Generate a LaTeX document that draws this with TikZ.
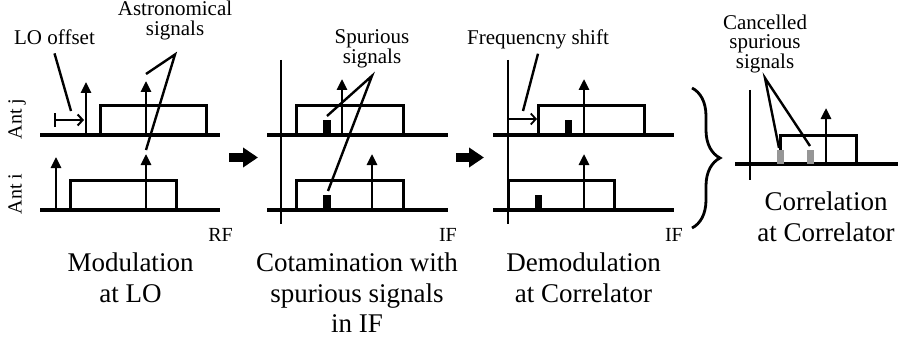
\documentclass[tikz,border=0pt]{standalone}
\usepackage{fontspec}
\setmainfont{Liberation Serif}
\usetikzlibrary{arrows.meta, positioning, decorations.pathreplacing}
\definecolor{cancelgray}{RGB}{150,150,150}
\tikzset{
    axis/.style={line width=3.4pt},
    vaxis/.style={line width=2.8pt},
    band/.style={draw, line width=3pt},
    sig/.style={line width=2.6pt, -{Triangle[length=11pt,width=10pt]}},
    lead/.style={line width=2.4pt},
    spur/.style={fill=black},
    note/.style={font=\fontsize{21}{20}\selectfont, align=center, inner sep=0pt},
    caption/.style={font=\fontsize{27}{30.5}\selectfont, align=center, inner sep=0pt},
    tag/.style={font=\fontsize{20}{20}\selectfont, inner sep=0pt},
    flow/.style={line width=9pt, -{Triangle[length=15pt,width=19pt]}}
}

\begin{document}
\begin{tikzpicture}[x=1pt, y=-1pt]
    \useasboundingbox (0,0) rectangle (908,345);

    % modulation at LO
    \node (antj) [tag, rotate=90, anchor=base] at (21.5,119) {Ant j};
    \node (anti) [tag, rotate=90, anchor=base] at (21.5,194) {Ant i};
    \draw [axis] (40,135) -- (220,135);
    \draw [axis] (40,210) -- (220,210);
    \draw [band] (100,105) rectangle (206,135);
    \draw [band] (70,180) rectangle (176,210);
    \draw [sig] (86,135) -- (86,82);
    \draw [sig] (56,210) -- (56,157);
    \draw [sig] (146,135) -- (146,81);
    \draw [sig] (146,210) -- (146,154);
    \coordinate (astroj) at (146,74);
    \coordinate (astroi) at (146,150);
    \coordinate (loend) at (71,111);
    \draw [line width=2pt, {Bar[width=14pt]}-{Straight Barb[length=5pt,width=11pt]}] (54,120) -- (84,120);
    \node (lo-off) [note, anchor=north] at (54.5,30) {LO offset};
    \node (astro) [note, anchor=north] at (175,1) {Astronomical\\signals};
    \coordinate (astro-apex) at ([yshift=-14pt]astro.south);
    \draw [lead] ([yshift=-8pt]lo-off.south) -- (loend);
    \draw [lead] (astroj) -- (astro-apex) -- (astroi);
    \node (rf) [tag, anchor=base east] at (233,241) {RF};
    \node (modul) [caption, anchor=north] at (130.5,252.6) {Modulation\\at LO};

    \draw [flow] (229,157.5) -- (258,157.5);

    % contamination in IF
    \draw [vaxis] (281,60) -- (281,224);
    \draw [axis] (267,135) -- (448,135);
    \draw [axis] (267,210) -- (448,210);
    \draw [band] (296,105) rectangle (403,135);
    \draw [band] (296,180) rectangle (403,210);
    \fill [spur] (323,120) rectangle (331,135);
    \fill [spur] (323,195) rectangle (331,210);
    \draw [sig] (342,135) -- (342,79);
    \draw [sig] (372,210) -- (372,154);
    \coordinate (spurj) at (327,116);
    \coordinate (spuri) at (328,191);
    \node (spur) [note, anchor=north] at (372,29.5) {Spurious\\signals};
    \coordinate (spur-apex) at ([yshift=-7.5pt]spur.south);
    \draw [lead] (spurj) -- (spur-apex) -- (spuri);
    \node (if-a) [tag, anchor=base east] at (457,241) {IF};
    \node (contam) [caption, anchor=north] at (357,253) {Cotamination with\\spurious signals\\in IF};

    \draw [flow] (456,157.5) -- (484,157.5);

    % demodulation at correlator
    \draw [vaxis] (508,60) -- (508,224);
    \draw [axis] (493,135) -- (674,135);
    \draw [axis] (493,210) -- (674,210);
    \draw [band] (538,105) rectangle (644,135);
    \draw [band] (508,180) rectangle (614,210);
    \fill [spur] (565,120) rectangle (572,135);
    \fill [spur] (535,195) rectangle (542,210);
    \draw [sig] (584,135) -- (584,79);
    \draw [sig] (584,210) -- (584,154);
    \draw [line width=1.8pt, -{Straight Barb[length=5pt,width=11pt]}] (508,119) -- (537,119);
    \coordinate (shiftend) at (523,111);
    \node (fshift) [note, anchor=north] at (538,29.5) {Frequencny shift};
    \draw [lead] ([yshift=-4.5pt]fshift.south) -- (shiftend);
    \node (if-b) [tag, anchor=base east] at (683,241) {IF};
    \node (demod) [caption, anchor=north] at (583.5,252.6) {Demodulation\\at Correlator};

    \draw [line width=2.8pt, decorate, decoration={brace, amplitude=28pt}] (692,88) -- (692,228);

    % correlation
    \draw [vaxis] (750,90) -- (750,180);
    \draw [axis] (735,164) -- (898,164);
    \draw [band] (780,135) rectangle (856,164);
    \fill [cancelgray] (777,150) rectangle (784,164);
    \fill [cancelgray] (807,150) rectangle (814,164);
    \draw [sig] (826,164) -- (826,108);
    \coordinate (cancela) at (779,148);
    \coordinate (cancelb) at (810,146);
    \node (cancel) [note, font=\fontsize{21}{19}\selectfont, anchor=north] at (765,14.5) {Cancelled\\spurious\\signals};
    \coordinate (cancel-apex) at ([yshift=-5pt]cancel.south);
    \draw [lead] (cancela) -- (cancel-apex) -- (cancelb);
    \node (correl) [caption, anchor=north] at (826,191.6) {Correlation\\at Correlator};
\end{tikzpicture}
\end{document}
